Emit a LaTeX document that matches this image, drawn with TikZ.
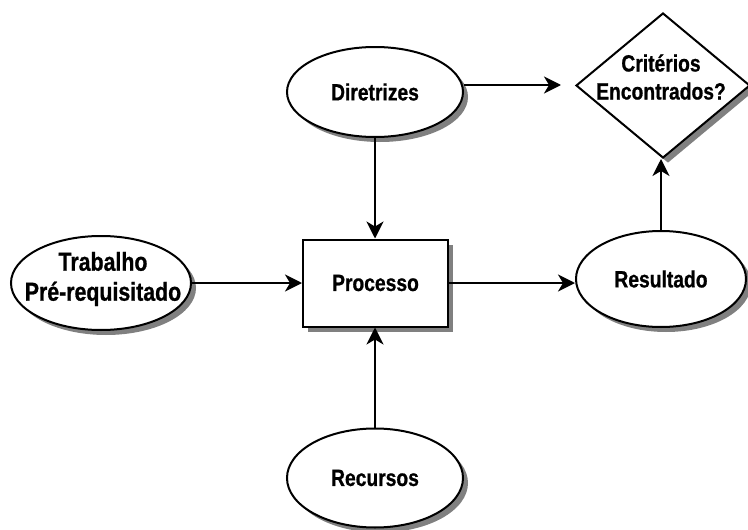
\documentclass[tikz,border=0pt]{standalone}
\usepackage{fontspec}
\setmainfont{Liberation Sans}[FakeStretch=0.82,BoldFeatures={FakeBold=0.8}]
\usetikzlibrary{shapes.geometric,shadows,arrows.meta}
\begin{document}
\begin{tikzpicture}[x=1pt,y=-1pt,
  labelfont/.style={font=\fontsize{23.5}{28}\selectfont\bfseries},
  base/.style={draw=black,line width=2pt,fill=white,inner sep=0pt,align=center,labelfont},
  shadowed/.style={drop shadow={shadow xshift=5pt,shadow yshift=-5pt,fill=black!50,opacity=1}},
  oval/.style={base,shadowed,ellipse},
  procbox/.style={base,shadowed,rectangle},
  decision/.style={base,shadowed,diamond},
  caption/.style={inner sep=0pt,align=center,labelfont},
  flow/.style={line width=2pt,-{Stealth[length=17pt,width=17pt,inset=5pt]}}]
\useasboundingbox (0,0) rectangle (748,530);

% nodes
\node[oval,minimum width=176pt,minimum height=90pt] (dir) at (375,92) {Diretrizes};
\node[decision,minimum width=174pt,minimum height=145pt] (crit) at (663,85.5) {};
\node[caption] (critlabel) at (661,77) {Critérios\\Encontrados?};
\node[oval,minimum width=180pt,minimum height=94pt] (trab) at (101,283) {};
\node[caption,font=\fontsize{26}{30}\selectfont\bfseries] (trablabel) at (103,279) {Trabalho\\Pré-requisitado};
\node[procbox,minimum width=145pt,minimum height=87pt] (proc) at (375.5,283) {Processo};
\node[oval,minimum width=170pt,minimum height=96pt] (res) at (661,279) {Resultado};
\node[oval,minimum width=176pt,minimum height=99pt] (rec) at (375,478) {Recursos};

% connectors
\draw[flow,shorten >=14pt] ([yshift=7pt]dir.east) -- ([yshift=7pt]dir.east -| crit.west);
\draw[flow] (dir.south) -- (dir.south |- proc.north);
\draw[flow] (trab.east) -- (trab.east -| proc.west);
\draw[flow] (proc.east) -- (proc.east -| res.west);
\draw[flow] (rec.north) -- (rec.north |- proc.south);
\draw[flow] (res.north) -- (res.north |- crit.south);
\end{tikzpicture}
\end{document}
